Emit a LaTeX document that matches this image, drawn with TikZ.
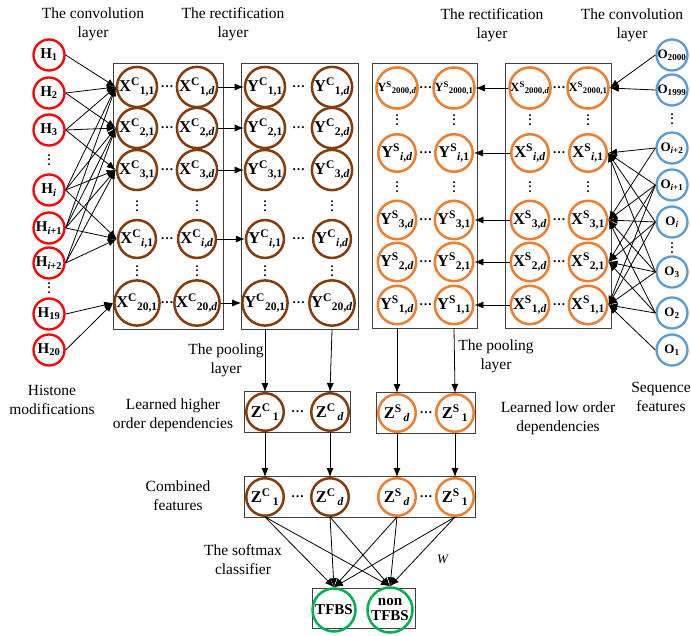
\documentclass[tikz,border=0pt]{standalone}
\usepackage{fontspec}
\setmainfont{Liberation Serif}
\usetikzlibrary{arrows.meta, positioning, fit, backgrounds}
\definecolor{hred}{HTML}{FF0000}
\definecolor{cbrown}{HTML}{843C0C}
\definecolor{sorange}{HTML}{ED7D31}
\definecolor{oblue}{HTML}{5B9BD5}
\definecolor{tgreen}{HTML}{00B050}
\newcommand{\conv}[3]{\textbf{#1\textsuperscript{#2}\textsubscript{#3}}}
\newcommand{\inp}[2]{\textbf{#1\textsubscript{#2}}}
\newcommand{\bigfnt}{\fontsize{16.5}{16.5}\selectfont}
\newcommand{\smallfnt}{\fontsize{12.5}{12.5}\selectfont}
\newcommand{\vdts}{\vbox{\baselineskip=4.2pt\lineskiplimit=-10pt\hbox{.}\hbox{.}\hbox{.}}}

\begin{document}
\begin{tikzpicture}[
    x=1pt, y=-1pt,
    unit/.style={circle, line width=2.5pt, minimum size=37.5pt, inner sep=0pt,
                 font=\bigfnt},
    cnode/.style={unit, draw=cbrown},
    snode/.style={unit, draw=sorange},
    hnode/.style={circle, draw=hred, line width=2.3pt, minimum size=31pt,
                  inner sep=0pt, font=\fontsize{15}{15}\selectfont},
    onode/.style={circle, draw=oblue, line width=2.3pt, minimum size=31pt,
                  inner sep=0pt, font=\fontsize{13}{13}\selectfont},
    outnode/.style={circle, draw=tgreen, line width=2.5pt, inner sep=0pt,
                    align=center, font=\bfseries\fontsize{15}{15}\selectfont},
    grp/.style={rectangle, draw=black!75, line width=0.9pt, inner sep=2.5pt},
    lbl/.style={align=center, font=\fontsize{15.5}{19}\selectfont},
    hdots/.style={inner sep=0pt, font=\bfseries\fontsize{13}{13}\selectfont},
    vdotlbl/.style={inner sep=0pt, font=\bfseries\fontsize{12}{12}\selectfont},
    arr/.style={-{Latex[length=9pt,width=7pt]}, line width=0.8pt},
  ]
  \useasboundingbox (0,0) rectangle (691,635);

  % histone inputs
  \foreach \n/\y/\s in {1/55/1, 2/93/2, 3/130/3, i/190/\textit{i},
      ip1/228/{\textit{i}+1}, ip2/263/{\textit{i}+2}, 19/314/19, 20/350/20}
    \node[hnode] (h\n) at (49,\y) {\inp{H}{\s}};
  \node[vdotlbl] (hdotsa) at (49,160) {\vdts};
  \node[vdotlbl] (hdotsb) at (49,288) {\vdts};

  % sequence inputs
  \foreach \n/\y/\s in {2000/55/2000, 1999/90/1999, ip2/148/{\textit{i}+2},
      ip1/185/{\textit{i}+1}, i/222/\textit{i}, 3/272/3, 2/313/2, 1/350/1}
    \node[onode] (o\n) at (672,\y) {\inp{O}{\s}};
  \node[vdotlbl] (odotsa) at (672,119) {\vdts};
  \node[vdotlbl] (odotsb) at (672,248) {\vdts};

  % histone branch: convolution and rectification
  \foreach \r/\y/\s in {1/87/1, 2/128/2, 3/170/3, i/239/\textit{i}, 20/303/20} {
    \node[cnode] (xc\r) at (137,\y) {\conv{X}{C}{\s,1}};
    \node[cnode] (xcd\r) at (197,\y) {\conv{X}{C}{\s,\textit{d}}};
    \node[hdots] at (167,\y) {\dots};
    \node[cnode] (yc\r) at (265,\y) {\conv{Y}{C}{\s,1}};
    \node[cnode] (ycd\r) at (332,\y) {\conv{Y}{C}{\s,\textit{d}}};
    \node[hdots] at (298.5,\y) {\dots};
    \draw[arr] (xcd\r.east) -- (yc\r.west);
  }
  \foreach \c in {137,197,265,332} {
    \node[vdotlbl] at (\c,206) {\vdts};
    \node[vdotlbl] at (\c,271) {\vdts};
  }

  % sequence branch: convolution and rectification
  \foreach \r/\y/\s/\f in {2000/88/2000/\smallfnt, i/153/\textit{i}/\bigfnt,
      3/220/3/\bigfnt, 2/262/2/\bigfnt, 1/305/1/\bigfnt} {
    \node[snode] (xsd\r) at (530,\y) {\f\conv{X}{S}{\s,\textit{d}}};
    \node[snode] (xs\r) at (588,\y) {\f\conv{X}{S}{\s,1}};
    \node[hdots] at (559,\y) {\dots};
    \node[snode] (ysd\r) at (397,\y) {\f\conv{Y}{S}{\s,\textit{d}}};
    \node[snode] (ys\r) at (454,\y) {\f\conv{Y}{S}{\s,1}};
    \node[hdots] at (425.5,\y) {\dots};
    \draw[arr] (xsd\r.west) -- (ys\r.east);
  }
  \foreach \c in {397,454,530,588} {
    \node[vdotlbl] at (\c,120) {\vdts};
    \node[vdotlbl] at (\c,187) {\vdts};
  }

  % convolution connections
  \foreach \h/\x in {1/1, 2/1, 2/2, 3/1, 3/2, 3/3, i/1, i/2, i/3, i/i,
      ip1/1, ip1/2, ip1/3, ip1/i, ip2/2, ip2/3, ip2/i, 19/20, 20/20}
    \draw[arr] (h\h.east) -- (xc\x.west);
  \foreach \o/\x in {2000/2000, 1999/2000, ip2/i, ip2/3, ip1/i, ip1/3, ip1/2,
      ip1/1, i/i, i/3, i/2, i/1, 3/i, 3/3, 3/2, 3/1, 2/3, 2/2, 2/1, 1/1}
    \draw[arr] (o\o.west) -- (xs\x.east);

  % pooling
  \node[cnode] (zc1) at (265,412) {\conv{Z}{C}{\,1}};
  \node[cnode] (zcd) at (330,412) {\conv{Z}{C}{\,\textit{d}}};
  \node[hdots] at (297.5,412) {\dots};
  \node[snode] (zsd) at (397,413) {\conv{Z}{S}{\,\textit{d}}};
  \node[snode] (zs1) at (455,413) {\conv{Z}{S}{\,1}};
  \node[hdots] at (426,413) {\dots};

  % combined features
  \node[cnode] (fc1) at (265,497) {\conv{Z}{C}{\,1}};
  \node[cnode] (fcd) at (330,497) {\conv{Z}{C}{\,\textit{d}}};
  \node[hdots] at (297.5,497) {\dots};
  \node[snode] (fsd) at (397,497) {\conv{Z}{S}{\,\textit{d}}};
  \node[snode] (fs1) at (455,497) {\conv{Z}{S}{\,1}};
  \node[hdots] at (426,497) {\dots};

  % softmax outputs
  \node[outnode, minimum size=43pt] (tfbs) at (334,610) {TFBS};
  \node[outnode, minimum size=45pt] (ntfbs) at (390,610) {non\\TFBS};

  \begin{pgfonlayer}{background}
    \node[grp, fit=(xc1)(xcd20)] (xcbox) {};
    \node[grp, fit=(yc1)(ycd20)] (ycbox) {};
    \node[grp, fit=(ysd2000)(ys1)] (ysbox) {};
    \node[grp, fit=(xsd2000)(xs1)] (xsbox) {};
    \node[grp, inner sep=0.5pt, fit=(zc1)(zcd)] (zcbox) {};
    \node[grp, inner sep=0.5pt, fit=(zsd)(zs1)] (zsbox) {};
    \node[grp, inner sep=0.5pt, fit=(fc1)(fs1)] (fbox) {};
    \node[grp, minimum width=103pt, minimum height=40pt] (outbox) at (363.5,608) {};
  \end{pgfonlayer}

  \draw[arr] (ycbox.south -| yc20) -- (zc1.north);
  \draw[arr] (ycbox.south -| ycd20) -- (zcd.north);
  \draw[arr] (ysbox.south -| ysd1) -- (zsd.north);
  \draw[arr] (ysbox.south -| ys1) -- (zs1.north);
  \foreach \a/\b in {zc1/fc1, zcd/fcd, zsd/fsd, zs1/fs1}
    \draw[arr] (\a.south) -- (\b.north);
  \foreach \f in {fc1, fcd, fsd, fs1} {
    \draw[arr] (\f.south) -- (tfbs.north);
    \draw[arr] (\f.south) -- (ntfbs.north);
  }

  % labels
  \node[lbl] (convl) at (93,24) {The convolution\\layer};
  \node[lbl] (rectl) at (233,24) {The rectification\\layer};
  \node[lbl] (rectr) at (492,25) {The rectification\\layer};
  \node[lbl] (convr) at (632,25) {The convolution\\layer};
  \node[lbl] (histlbl) at (52,400) {Histone\\modifications};
  \node[lbl] (pooll) at (226,360) {The pooling\\layer};
  \node[lbl] (highlbl) at (173,415) {Learned higher\\order dependencies};
  \node[lbl] (poolr) at (496,356) {The pooling\\layer};
  \node[lbl] (lowlbl) at (558,418) {Learned low order\\dependencies};
  \node[lbl] (seqlbl) at (661,397) {Sequence\\features};
  \node[lbl] (comblbl) at (178,496) {Combined\\features};
  \node[lbl] (softlbl) at (243,560) {The softmax\\classifier};
  \node[lbl, font=\fontsize{13}{13}\selectfont] (wlbl) at (443,559) {\textit{W}};
\end{tikzpicture}
\end{document}
